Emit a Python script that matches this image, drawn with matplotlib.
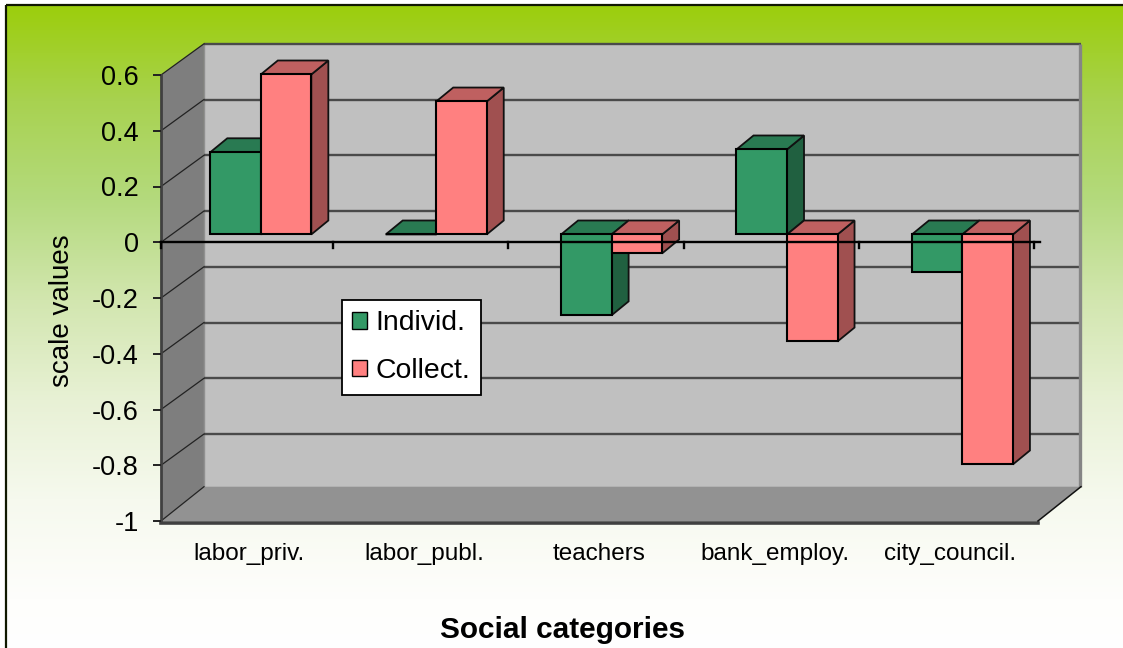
import matplotlib
matplotlib.use("Agg")
import matplotlib.pyplot as plt
import numpy as np
from matplotlib.colors import LinearSegmentedColormap
from matplotlib.patches import Patch, Polygon, Rectangle

plt.rcParams['font.family'] = ['Liberation Sans', 'DejaVu Sans']

# Chart values
categories = ["labor_priv.", "labor_publ.", "teachers", "bank_employ.", "city_council."]
individ = [0.295, 0.0, -0.29, 0.305, -0.133]
collect = [0.574, 0.477, -0.068, -0.384, -0.825]
y_ticks = [0.6, 0.4, 0.2, 0, -0.2, -0.4, -0.6, -0.8, -1]
y_tick_labels = ["0.6", "0.4", "0.2", "0", "-0.2", "-0.4", "-0.6", "-0.8", "-1"]

W, H = 1123, 648
DPI = 100

# Depth of the box, in axis units (x: one category, y: one value unit)
DEPTH_X = 0.245
DEPTH_Y = 0.112
FLOOR_LIFT = 0.011
# Front face of the bars sits this far into the box
BAR_SHIFT_X = 0.064
BAR_SHIFT_Y = 0.028
# Depth of the bars themselves
BAR_DEPTH_X = 0.097
BAR_DEPTH_Y = 0.050
BAR_WIDTH = 0.288
BAR_START = 0.217

INDIVID_COLORS = ("#339966", "#297A52", "#206040")
COLLECT_COLORS = ("#FF8080", "#BF6060", "#A05050")


def px_box(left, top, right, bottom):
    return [left / W, 1 - bottom / H, (right - left) / W, (bottom - top) / H]


def draw_bar(ax, x, value, colors, z):
    front, top, side = colors
    dx = BAR_DEPTH_X
    dy = BAR_DEPTH_Y
    x0 = x + BAR_SHIFT_X
    x1 = x0 + BAR_WIDTH
    low = min(value, 0) + BAR_SHIFT_Y
    high = max(value, 0) + BAR_SHIFT_Y
    ax.add_patch(Polygon([(x1, low), (x1 + dx, low + dy), (x1 + dx, high + dy), (x1, high)],
                         facecolor=side, edgecolor="#111111", lw=1.3, zorder=z, clip_on=False))
    ax.add_patch(Polygon([(x0, high), (x1, high), (x1 + dx, high + dy), (x0 + dx, high + dy)],
                         facecolor=top, edgecolor="#111111", lw=1.3, zorder=z, clip_on=False))
    ax.bar(x0, high - low, bottom=low, width=BAR_WIDTH, align="edge", color=front,
           edgecolor="black", linewidth=1.5, zorder=z + 0.1, clip_on=False)


fig = plt.figure(figsize=(W / DPI, H / DPI), dpi=DPI, facecolor="white")

# Green to white background panel with a dark frame
bg = fig.add_axes([0, 0, 1, 1], zorder=0)
bg.set_xlim(0, W)
bg.set_ylim(H, 0)
bg.axis("off")
cmap = LinearSegmentedColormap.from_list(
    "panel", [(0.0, "#9CCE0C"), (0.147, "#A8D250"), (0.30, "#B4DA7D"), (0.455, "#D2E6AF"),
              (0.61, "#E8F1D5"), (0.764, "#F6F9EE"), (0.918, "#FEFEFC"), (1.0, "#FFFFFF")])
gradient = np.linspace(0, 1, 256).reshape(-1, 1)
bg.imshow(gradient, cmap=cmap, aspect="auto", extent=(6, W + 5, H + 5, 5), zorder=1)
bg.add_patch(Rectangle((6, 5), W, H, fill=False, edgecolor="#101800", lw=1.6, zorder=2))

ax = fig.add_axes(px_box(161, 75, 1038, 521), zorder=1)
ax.patch.set_visible(False)
ax.set_xlim(0, 5)
ax.set_ylim(-1, 0.6)
for spine in ax.spines.values():
    spine.set_visible(False)

# Back wall, side wall and floor of the box
floor_back = -1 + DEPTH_Y + FLOOR_LIFT
ax.add_patch(Polygon([(DEPTH_X, floor_back), (5 + DEPTH_X, floor_back),
                      (5 + DEPTH_X, 0.6 + DEPTH_Y), (DEPTH_X, 0.6 + DEPTH_Y)],
                     facecolor="#C0C0C0", edgecolor="none", clip_on=False, zorder=1))
ax.add_patch(Polygon([(0, -1), (DEPTH_X, floor_back), (DEPTH_X, 0.6 + DEPTH_Y), (0, 0.6)],
                     facecolor="#7E7E7E", edgecolor="none", clip_on=False, zorder=1.1))
ax.add_patch(Polygon([(0, -1), (5, -1), (5 + DEPTH_X, floor_back), (DEPTH_X, floor_back)],
                     facecolor="#929292", edgecolor="none", clip_on=False, zorder=1.1))

# Gridlines run along the back wall and down the side wall
for tick in y_ticks:
    back = tick + DEPTH_Y
    if tick > -1:
        ax.plot([DEPTH_X, 5 + DEPTH_X], [back, back], color="#4A4A4A", lw=1.7,
                clip_on=False, zorder=1.5, solid_capstyle="butt")
    else:
        back = floor_back
    ax.plot([0, DEPTH_X], [tick, back], color="#222222", lw=0.9, clip_on=False, zorder=1.6)

# Box edges
ax.plot([0, 0], [-1, 0.6], color="#404040", lw=2, clip_on=False, zorder=1.7)
ax.plot([0, 5], [-1.006, -1.006], color="#404040", lw=2.6, clip_on=False, zorder=1.7)
ax.plot([DEPTH_X, DEPTH_X], [floor_back, 0.6 + DEPTH_Y], color="#909090", lw=1,
        clip_on=False, zorder=1.4)
ax.plot([5 + DEPTH_X - 0.006] * 2, [floor_back, 0.6 + DEPTH_Y], color="#858585", lw=2.4,
        clip_on=False, zorder=1.6, solid_capstyle="butt")
ax.plot([5, 5 + DEPTH_X], [-1, floor_back], color="#111111", lw=1.1, clip_on=False, zorder=1.7)

# Bars are painted left to right so the nearer sides overlap correctly
for i in range(len(categories)):
    base = i + BAR_START
    draw_bar(ax, base, individ[i], INDIVID_COLORS, 3 + i)
    draw_bar(ax, base + BAR_WIDTH, collect[i], COLLECT_COLORS, 3.3 + i)

# Zero line with its category ticks, on top of the bars
tick_positions = np.clip(np.arange(6) * 0.999 - 0.017, 0, None)
ax.plot([0, 5.01], [0, 0], color="black", lw=1.7, clip_on=False, zorder=20)
for pos in tick_positions:
    ax.plot([pos, pos], [0, -0.022], color="black", lw=1.7, clip_on=False, zorder=20)

ax.set_xticks(np.arange(len(categories)) + 0.5)
ax.set_xticklabels(categories, fontsize=17.5)
ax.tick_params(axis="x", length=0, pad=16)
ax.set_yticks(y_ticks)
ax.set_yticklabels(y_tick_labels, fontsize=19.5)
ax.tick_params(axis="y", length=6, width=1.4, color="#222222", pad=10)
ax.set_axisbelow(False)

fig.text(62 / W, 1 - 311 / H, "scale values", rotation=90, ha="center", va="center", fontsize=20)
fig.text(563 / W, 1 - 630 / H, "Social categories", ha="center", va="center",
         fontsize=21.4, fontweight="bold")

handles = [Patch(facecolor=INDIVID_COLORS[0], edgecolor="black", label="Individ."),
           Patch(facecolor=COLLECT_COLORS[0], edgecolor="black", label="Collect.")]
leg = fig.legend(handles=handles, loc="upper left", bbox_to_anchor=(342 / W, 1 - 300 / H),
                 fontsize=20.4, frameon=True, fancybox=False, framealpha=1, edgecolor="black",
                 borderaxespad=0, handlelength=0.5, handleheight=0.5, handletextpad=0.32,
                 labelspacing=0.76, borderpad=0.37)
leg.set_zorder(30)
leg.get_frame().set_linewidth(1.3)

fig.savefig("out.png", dpi=DPI)
